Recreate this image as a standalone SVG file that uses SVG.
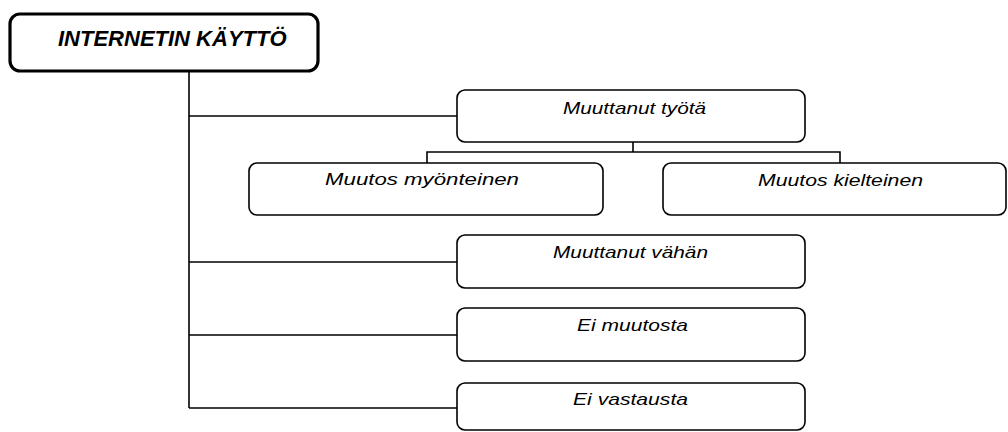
<svg xmlns="http://www.w3.org/2000/svg" width="1008" height="432" viewBox="0 0 1008 432">
  <style>
    .box { fill: #ffffff; stroke: #000000; stroke-width: 1.6; }
    .root { fill: #ffffff; stroke: #000000; stroke-width: 3.2; }
    .wire { fill: none; stroke: #000000; stroke-width: 1.6; }
    .lbl { font-family: "Liberation Sans", Arial, sans-serif; font-style: italic; font-size: 17px; fill: #000000; }
    .title { font-family: "Liberation Sans", Arial, sans-serif; font-style: italic; font-weight: bold; font-size: 22px; fill: #000000; }
  </style>
  <rect width="1008" height="432" fill="#ffffff"/>

  <!-- tree connectors -->
  <g id="connectors">
    <path class="wire" d="M189 71 V408"/>
    <path class="wire" d="M189 116 H457"/>
    <path class="wire" d="M189 262 H457"/>
    <path class="wire" d="M189 335 H457"/>
    <path class="wire" d="M189 408 H457"/>
    <path class="wire" d="M633 142 V152 M427 163 V152 H840 V163"/>
  </g>

  <g id="root">
    <rect class="root" x="10" y="14" width="308" height="57" rx="10"/>
    <text class="title" x="58" y="46">INTERNETIN KÄYTTÖ</text>
  </g>

  <g id="muuttanut-tyota">
    <rect class="box" x="457" y="90" width="348" height="52" rx="8"/>
    <text class="lbl" x="563" y="114" textLength="143" lengthAdjust="spacingAndGlyphs">Muuttanut työtä</text>
  </g>

  <g id="muutos-myonteinen">
    <rect class="box" x="249" y="163" width="354" height="52" rx="8"/>
    <text class="lbl" x="325" y="185" textLength="194" lengthAdjust="spacingAndGlyphs">Muutos myönteinen</text>
  </g>

  <g id="muutos-kielteinen">
    <rect class="box" x="663" y="163" width="343" height="52" rx="8"/>
    <text class="lbl" x="758" y="186" textLength="165" lengthAdjust="spacingAndGlyphs">Muutos kielteinen</text>
  </g>

  <g id="muuttanut-vahan">
    <rect class="box" x="457" y="235" width="348" height="53" rx="8"/>
    <text class="lbl" x="553" y="258" textLength="155" lengthAdjust="spacingAndGlyphs">Muuttanut vähän</text>
  </g>

  <g id="ei-muutosta">
    <rect class="box" x="457" y="308" width="348" height="53" rx="8"/>
    <text class="lbl" x="577" y="331" textLength="111" lengthAdjust="spacingAndGlyphs">Ei muutosta</text>
  </g>

  <g id="ei-vastausta">
    <rect class="box" x="457" y="383" width="348" height="47" rx="8"/>
    <text class="lbl" x="573" y="405" textLength="115" lengthAdjust="spacingAndGlyphs">Ei vastausta</text>
  </g>
</svg>
